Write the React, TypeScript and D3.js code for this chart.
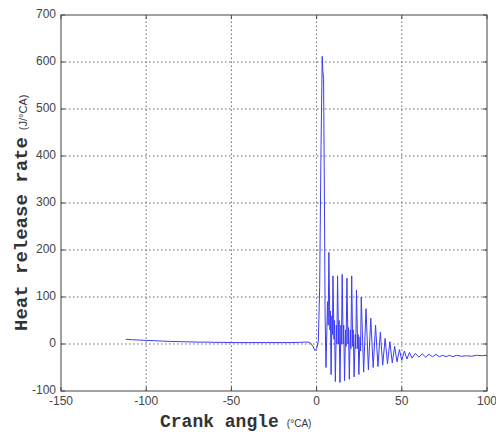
import * as d3 from "d3";

// crank angle (deg CA) and heat release rate (J/deg CA)
const angle = [
  -112, -108, -104, -100, -95, -90, -85, -80, -75, -70, -65, -60, -55, -50,
  -45, -40, -35, -30, -25, -20, -15, -10, -7, -5, -3.5, -2, -1, 0, 1, 1.8,
  2.6, 3.3, 3.7, 4.1, 4.6, 5.0, 5.5,
  6.4, 6.8, 7.2, 7.8, 8.1, 8.5, 9.0, 9.3, 9.6, 10.2, 10.5, 11, 11.6, 11.9, 12.3,
  12.9, 13.2, 13.7, 14.3, 14.6, 15, 15.6, 15.9, 16.4, 17.0, 17.3, 17.8,
  18.4, 18.7, 19.2, 19.8, 20.1, 20.6, 21.2, 21.5, 22, 22.7, 23.0, 23.4,
  24.1, 24.4, 24.8, 25.5, 25.8, 26.2, 27.6, 29, 30.4, 31.8, 33.2, 34.6,
  36, 37.4, 38.8, 40.2, 41.6, 43, 44.4, 45.8, 47.2, 48.6, 50, 51.5, 53,
  54.5, 56, 58, 60, 62, 64, 66, 68, 70, 72, 74, 76, 78, 80, 82, 85, 88,
  91, 94, 97, 100,
];
const hrr = [
  10, 9, 8.5, 7.5, 7, 6, 5.5, 5, 4.5, 4, 4, 3.5, 3.5, 3, 3, 3, 3, 3, 3, 3,
  3, 3.5, 4, 4, 2, -6, -14, -10, 5, 120, 420, 612, 580, 565, 300, 60, -50,
  90, 40, 195, 30, 70, -65, 60, 20, 145, 10, 50, -80, 40, 0, 145,
  0, 50, -82, 40, 0, 148, 0, 40, -78, 30, -5, 140,
  0, 35, -75, 30, -10, 145, -5, 30, -70, 20, -10, 115,
  -10, 20, -65, 15, -15, 100, -60, 75, -55, 55, -50, 40,
  -48, 25, -45, 12, -42, 5, -40, -5, -38, -12, -35, -15, -32,
  -18, -30, -20, -28, -21, -28, -22, -27, -22, -27, -24, -27, -24, -27, -24, -26, -25,
  -26, -24, -25, -24,
];

const xTicks = [-150, -100, -50, 0, 50, 100];
const yTicks = [-100, 0, 100, 200, 300, 400, 500, 600, 700];

const W = 496;
const H = 434;
const margin = { top: 15, right: 9, bottom: 43, left: 61 };

export default function App() {
  const x = d3.scaleLinear().domain([-150, 100]).range([margin.left, W - margin.right]);
  const y = d3.scaleLinear().domain([-100, 700]).range([H - margin.bottom, margin.top]);

  const pts = angle.map((a, i) => [a, hrr[i]] as [number, number]);
  const line = d3.line<[number, number]>()
    .x((d) => x(d[0]))
    .y((d) => y(d[1]));

  const x0 = margin.left;
  const x1 = W - margin.right;
  const y0 = H - margin.bottom;
  const y1 = margin.top;
  const tk = 4;

  return (
    <div style={{ position: "fixed", left: 0, top: 0 }}>
      <svg width={W} height={H} style={{ display: "block", background: "#fff" }}>
        {/* grid */}
        <g stroke="#666" strokeWidth={1} strokeDasharray="1.5,2.5">
          {xTicks.slice(1, -1).map((t) => (
            <line key={"gx" + t} x1={x(t)} x2={x(t)} y1={y0} y2={y1} />
          ))}
          {yTicks.slice(1, -1).map((t) => (
            <line key={"gy" + t} x1={x0} x2={x1} y1={y(t)} y2={y(t)} />
          ))}
        </g>

        <path d={line(pts) || ""} fill="none" stroke="#3c3cf5" strokeWidth={1} />

        {/* box and ticks */}
        <rect x={x0} y={y1} width={x1 - x0} height={y0 - y1} fill="none" stroke="#444" strokeWidth={1} />
        <g stroke="#444" strokeWidth={1}>
          {xTicks.map((t) => (
            <g key={"tx" + t}>
              <line x1={x(t)} x2={x(t)} y1={y0} y2={y0 - tk} />
              <line x1={x(t)} x2={x(t)} y1={y1} y2={y1 + tk} />
            </g>
          ))}
          {yTicks.map((t) => (
            <g key={"ty" + t}>
              <line x1={x0} x2={x0 + tk} y1={y(t)} y2={y(t)} />
              <line x1={x1} x2={x1 - tk} y1={y(t)} y2={y(t)} />
            </g>
          ))}
        </g>

        {/* tick labels */}
        <g fontFamily="Liberation Sans, Arial, sans-serif" fontSize={12} fill="#444">
          {xTicks.map((t) => (
            <text key={"lx" + t} x={x(t)} y={y0 + 14} textAnchor="middle">
              {t}
            </text>
          ))}
          {yTicks.map((t) => (
            <text key={"ly" + t} x={x0 - 5} y={y(t)} textAnchor="end" dominantBaseline="middle">
              {t}
            </text>
          ))}
        </g>

        {/* axis titles */}
        <text x={160} y={427} fill="#333">
          <tspan fontFamily="Liberation Mono, Courier New, monospace" fontWeight="bold" fontSize={18}>
            Crank angle
          </tspan>
          <tspan fontFamily="Liberation Sans, Arial, sans-serif" fontSize={10} dx={8}>
            (°CA)
          </tspan>
        </text>
        <text transform="translate(27,331) rotate(-90)" fill="#333">
          <tspan fontFamily="Liberation Mono, Courier New, monospace" fontWeight="bold" fontSize={19}>
            Heat release rate
          </tspan>
          <tspan fontFamily="Liberation Sans, Arial, sans-serif" fontSize={11} dx={7}>
            (J/°CA)
          </tspan>
        </text>
      </svg>
    </div>
  );
}
